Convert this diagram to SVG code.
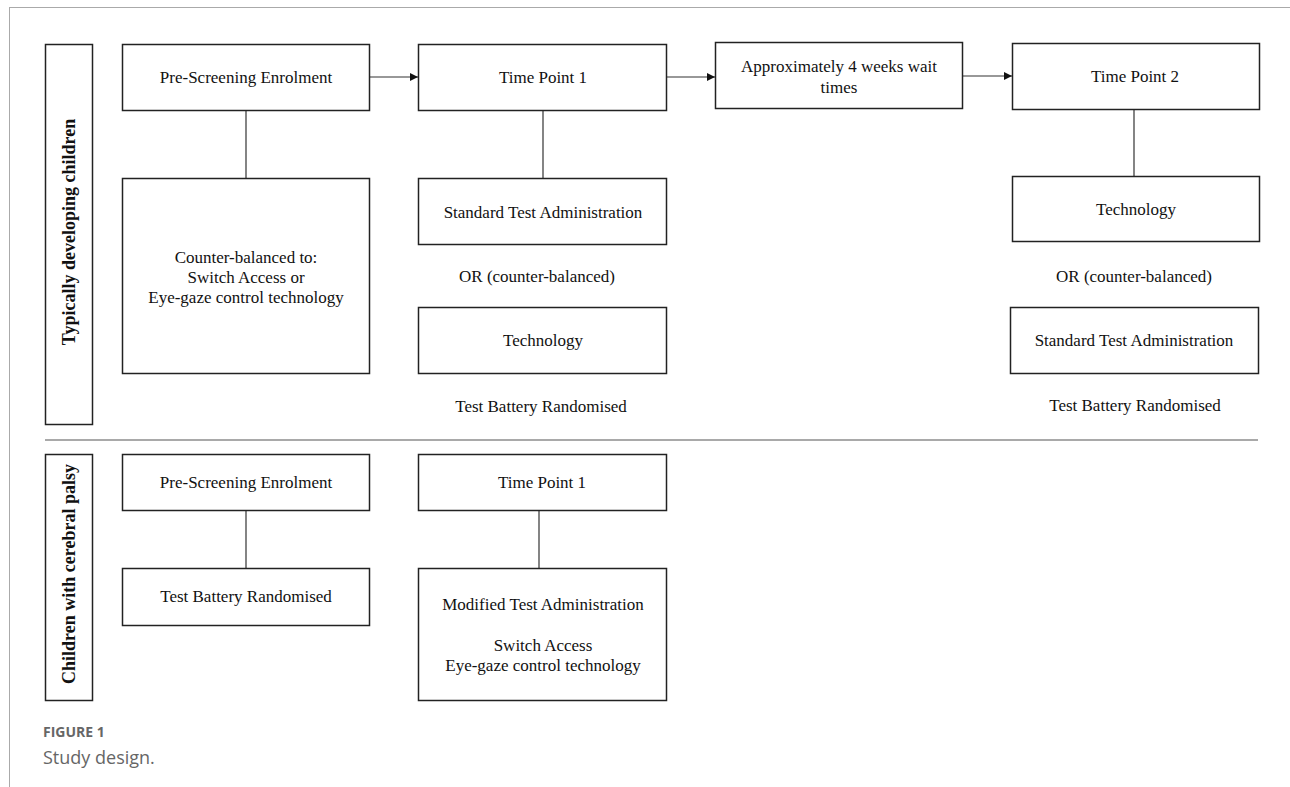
<svg xmlns="http://www.w3.org/2000/svg" width="1290" height="787" viewBox="0 0 1290 787">
<defs>
<style>
.box{fill:#fff;stroke:#222;stroke-width:1.5}
.t{font-family:"Liberation Serif","Times New Roman",serif;font-size:17px;fill:#111;text-anchor:middle}
.lbl{font-family:"Liberation Serif","Times New Roman",serif;font-size:18px;font-weight:bold;fill:#111;text-anchor:middle}
.ln{stroke:#333;stroke-width:1.2;fill:none}
.cap1{font-family:"Open Sans","Liberation Sans",sans-serif;font-size:14px;font-weight:bold;fill:#666}
.cap2{font-family:"Open Sans","Liberation Sans",sans-serif;font-size:18px;fill:#666}
</style>
<marker id="arr" viewBox="0 0 10 10" refX="10" refY="5" markerWidth="8" markerHeight="8" markerUnits="userSpaceOnUse" orient="auto">
<path d="M0,0 L10,5 L0,10 z" fill="#111"/>
</marker>
</defs>
<rect width="1290" height="787" fill="#fff"/>
<g id="frame">
<line x1="9" y1="7.5" x2="1290" y2="7.5" stroke="#aaa" stroke-width="1"/>
<line x1="9.5" y1="7" x2="9.5" y2="787" stroke="#aaa" stroke-width="1"/>
</g>
<g id="connectors">
<line class="ln" x1="369" y1="77" x2="418" y2="77" marker-end="url(#arr)"/>
<line class="ln" x1="666" y1="77" x2="715" y2="77" marker-end="url(#arr)"/>
<line class="ln" x1="962" y1="76" x2="1012" y2="76" marker-end="url(#arr)"/>
<line class="ln" x1="246" y1="110" x2="246" y2="178"/>
<line class="ln" x1="543" y1="110" x2="543" y2="178"/>
<line class="ln" x1="1134" y1="109" x2="1134" y2="176"/>
<line class="ln" x1="246" y1="510" x2="246" y2="568"/>
<line class="ln" x1="539" y1="510" x2="539" y2="568"/>
<line x1="45" y1="440" x2="1258" y2="440" stroke="#555" stroke-width="1.2"/>
</g>
<g id="label-typical">
<rect class="box" x="45.5" y="44.5" width="47" height="380"/>
<text class="lbl" transform="translate(75,232) rotate(-90)">Typically developing children</text>
</g>
<g id="label-cp">
<rect class="box" x="45.5" y="454.5" width="47" height="246"/>
<text class="lbl" transform="translate(75,574) rotate(-90)">Children with cerebral palsy</text>
</g>
<g id="prescreen1">
<rect class="box" x="122.5" y="44.5" width="247" height="66"/>
<text class="t" x="246" y="83">Pre-Screening Enrolment</text>
</g>
<g id="tp1">
<rect class="box" x="418.5" y="44.5" width="248" height="66"/>
<text class="t" x="543" y="83">Time Point 1</text>
</g>
<g id="wait">
<rect class="box" x="715.5" y="42.5" width="247" height="66"/>
<text class="t" x="839" y="72">Approximately 4 weeks wait</text>
<text class="t" x="839" y="93">times</text>
</g>
<g id="tp2">
<rect class="box" x="1012.5" y="43.5" width="247" height="66"/>
<text class="t" x="1135" y="82">Time Point 2</text>
</g>
<g id="counter">
<rect class="box" x="122.5" y="178.5" width="247" height="195"/>
<text class="t" x="246" y="263">Counter-balanced to:</text>
<text class="t" x="246" y="283">Switch Access or</text>
<text class="t" x="246" y="303">Eye-gaze control technology</text>
</g>
<g id="std1">
<rect class="box" x="418.5" y="178.5" width="248" height="66"/>
<text class="t" x="543" y="218">Standard Test Administration</text>
</g>
<g id="or1"><text class="t" x="537" y="282">OR (counter-balanced)</text></g>
<g id="tech1">
<rect class="box" x="418.5" y="307.5" width="248" height="66"/>
<text class="t" x="543" y="346">Technology</text>
</g>
<g id="rand1"><text class="t" x="541" y="412">Test Battery Randomised</text></g>
<g id="tech2">
<rect class="box" x="1012.5" y="176.5" width="247" height="65"/>
<text class="t" x="1136" y="215">Technology</text>
</g>
<g id="or2"><text class="t" x="1134" y="282">OR (counter-balanced)</text></g>
<g id="std2">
<rect class="box" x="1010.5" y="307.5" width="248" height="66"/>
<text class="t" x="1134" y="346">Standard Test Administration</text>
</g>
<g id="rand2"><text class="t" x="1135" y="411">Test Battery Randomised</text></g>
<g id="prescreen2">
<rect class="box" x="122.5" y="454.5" width="247" height="56"/>
<text class="t" x="246" y="488">Pre-Screening Enrolment</text>
</g>
<g id="tp1b">
<rect class="box" x="418.5" y="454.5" width="248" height="56"/>
<text class="t" x="542" y="488">Time Point 1</text>
</g>
<g id="rand3">
<rect class="box" x="122.5" y="568.5" width="247" height="57"/>
<text class="t" x="246" y="602">Test Battery Randomised</text>
</g>
<g id="modified">
<rect class="box" x="418.5" y="568.5" width="248" height="132"/>
<text class="t" x="543" y="610">Modified Test Administration</text>
<text class="t" x="543" y="651">Switch Access</text>
<text class="t" x="543" y="671">Eye-gaze control technology</text>
</g>
<g id="caption">
<text class="cap1" x="43" y="737">FIGURE 1</text>
<text class="cap2" x="43" y="764">Study design.</text>
</g>
</svg>
